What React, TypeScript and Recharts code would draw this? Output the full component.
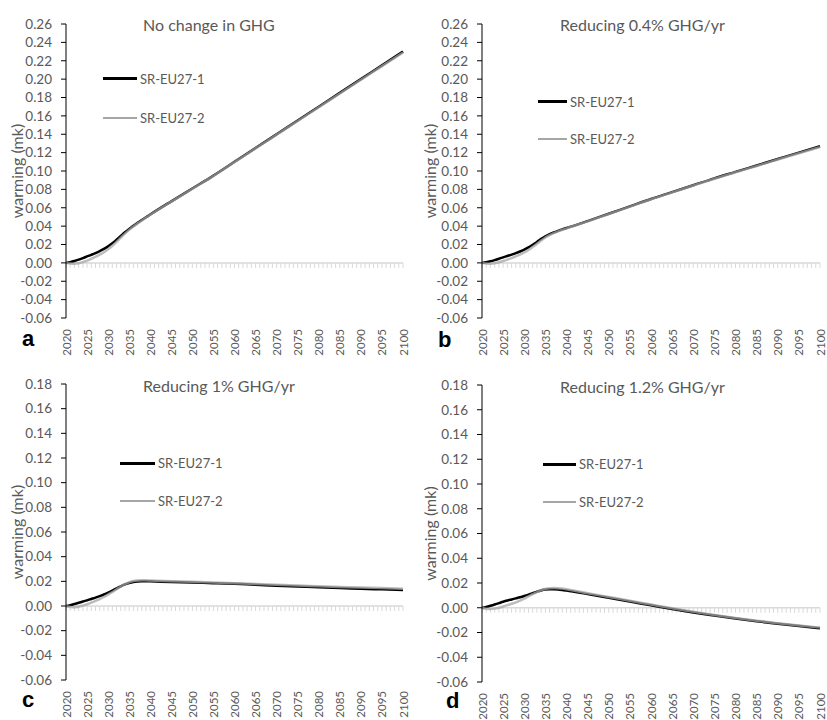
import React from "react";
import { LineChart, Line, XAxis, YAxis, ReferenceLine, Legend } from "recharts";

// years sampled: yearly to 2040, then every 5 years
const years = [
  2020, 2021, 2022, 2023, 2024, 2025, 2026, 2027, 2028, 2029, 2030, 2031, 2032, 2033, 2034, 2035,
  2036, 2037, 2038, 2039, 2040, 2045, 2050, 2055, 2060, 2065, 2070, 2075, 2080, 2085, 2090, 2095, 2100,
];
const labelYears = [2020, 2025, 2030, 2035, 2040, 2045, 2050, 2055, 2060, 2065, 2070, 2075, 2080, 2085, 2090, 2095, 2100];
const minorYears = Array.from({ length: 81 }, (_, i) => 2020 + i);

const topTicks = [-0.06, -0.04, -0.02, 0, 0.02, 0.04, 0.06, 0.08, 0.1, 0.12, 0.14, 0.16, 0.18, 0.2, 0.22, 0.24, 0.26];
const bottomTicks = [-0.06, -0.04, -0.02, 0, 0.02, 0.04, 0.06, 0.08, 0.1, 0.12, 0.14, 0.16, 0.18];

const seriesNames = ["SR-EU27-1", "SR-EU27-2"];

// a: no change in GHG
const aBlack = [
  0, 0.0008, 0.002, 0.0035, 0.0052, 0.007, 0.0088, 0.0107, 0.0128, 0.0152, 0.018, 0.0213, 0.0252, 0.0293, 0.0333, 0.037,
  0.0404, 0.0436, 0.0467, 0.0497, 0.0527, 0.067, 0.081, 0.095, 0.11, 0.125, 0.14, 0.155, 0.17, 0.185, 0.2, 0.215, 0.23,
];
const aGray = [
  0, -0.0008, -0.001, -0.0005, 0.0008, 0.0025, 0.0045, 0.0066, 0.0089, 0.0116, 0.0148, 0.0186, 0.0229, 0.0274, 0.0318, 0.0359,
  0.0396, 0.043, 0.0462, 0.0493, 0.0523, 0.0667, 0.0807, 0.0947, 0.1097, 0.1246, 0.1396, 0.1545, 0.1694, 0.1844, 0.1993, 0.2142, 0.229,
];
// b: reducing 0.4%
const bBlack = [
  0, 0.0007, 0.0017, 0.003, 0.0045, 0.006, 0.0075, 0.009, 0.0106, 0.0124, 0.0145, 0.0169, 0.0197, 0.0228, 0.0261, 0.029,
  0.0313, 0.0332, 0.0349, 0.0365, 0.0379, 0.0455, 0.0535, 0.0615, 0.0695, 0.077, 0.0845, 0.092, 0.099, 0.106, 0.113, 0.12, 0.127,
];
const bGray = [
  0, -0.0008, -0.001, -0.0005, 0.0007, 0.002, 0.0035, 0.0052, 0.007, 0.009, 0.0113, 0.014, 0.0172, 0.0207, 0.0243, 0.0276,
  0.0302, 0.0324, 0.0343, 0.036, 0.0376, 0.0452, 0.0532, 0.0612, 0.0692, 0.0767, 0.0842, 0.0916, 0.0986, 0.1055, 0.1125, 0.1193, 0.126,
];
// c: reducing 1%
const cBlack = [
  0, 0.0007, 0.0016, 0.0026, 0.0036, 0.0046, 0.0057, 0.0068, 0.008, 0.0093, 0.0108, 0.0125, 0.0143, 0.016, 0.0175, 0.0187,
  0.0195, 0.0199, 0.0201, 0.0201, 0.02, 0.0195, 0.019, 0.0185, 0.018, 0.0172, 0.0165, 0.0158, 0.0152, 0.0146, 0.014, 0.0135, 0.013,
];
const cGray = [
  0, -0.0008, -0.001, -0.0006, 0.0003, 0.0014, 0.0027, 0.0041, 0.0056, 0.0073, 0.0092, 0.0113, 0.0136, 0.0158, 0.0177, 0.0192,
  0.0202, 0.0207, 0.0209, 0.0208, 0.0206, 0.0201, 0.0196, 0.019, 0.0184, 0.0178, 0.0172, 0.0166, 0.016, 0.0155, 0.015, 0.0145, 0.014,
];
// d: reducing 1.2%
const dBlack = [
  0, 0.0007, 0.0016, 0.0026, 0.0037, 0.0048, 0.0058, 0.0067, 0.0076, 0.0085, 0.0095, 0.0106, 0.0118, 0.013, 0.014, 0.0147,
  0.015, 0.015, 0.0148, 0.0144, 0.0139, 0.011, 0.008, 0.005, 0.002, -0.001, -0.0038, -0.0063, -0.0087, -0.0109, -0.0129, -0.0148, -0.0165,
];
const dGray = [
  0, -0.0008, -0.001, -0.0007, 0, 0.001, 0.0021, 0.0032, 0.0044, 0.0058, 0.0074, 0.0092, 0.011, 0.0127, 0.0141, 0.0151,
  0.0157, 0.0159, 0.0158, 0.0155, 0.015, 0.0118, 0.0087, 0.0056, 0.0026, -0.0004, -0.0033, -0.0059, -0.0083, -0.0105, -0.0125, -0.0144, -0.016,
];

const toRows = (s1: number[], s2: number[]) => years.map((year, i) => ({ year, s1: s1[i], s2: s2[i] }));

const TEXT = "#595959";
const FONT = "Lato, 'Open Sans', sans-serif";

const panels = [
  {
    key: "a", x: 0, y: 0, w: 413, title: "No change in GHG", titleX: 143, titleY: 31, letterX: 22, letterY: 346,
    margin: { top: 24, right: 10, bottom: 2, left: 0 }, yW: 66, xH: 40, domain: [-0.06, 0.26], ticks: topTicks,
    legend: { left: 103, top: 59, line: 34, row: 39 }, data: toRows(aBlack, aGray),
  },
  {
    key: "b", x: 413, y: 0, w: 414, title: "Reducing 0.4% GHG/yr", titleX: 147, titleY: 31, letterX: 25, letterY: 347,
    margin: { top: 24, right: 7, bottom: 2, left: 0 }, yW: 69, xH: 40, domain: [-0.06, 0.26], ticks: topTicks,
    legend: { left: 125, top: 83, line: 29, row: 37 }, data: toRows(bBlack, bGray),
  },
  {
    key: "c", x: 0, y: 360, w: 413, title: "Reducing 1% GHG/yr", titleX: 143, titleY: 32, letterX: 22, letterY: 347,
    margin: { top: 24, right: 10, bottom: 0, left: 0 }, yW: 66, xH: 40, domain: [-0.06, 0.18], ticks: bottomTicks,
    legend: { left: 120, top: 84, line: 35, row: 38 }, data: toRows(cBlack, cGray),
  },
  {
    key: "d", x: 413, y: 360, w: 414, title: "Reducing 1.2% GHG/yr", titleX: 147, titleY: 33, letterX: 33, letterY: 348,
    margin: { top: 25, right: 7, bottom: 0, left: 0 }, yW: 69, xH: 38, domain: [-0.06, 0.18], ticks: bottomTicks,
    legend: { left: 130, top: 85, line: 33, row: 38 }, data: toRows(dBlack, dGray),
  },
];

const H = 360;

const YearTick = (props: any) => {
  const { x, y, payload } = props;
  const ty = y + 11;
  return (
    <text
      x={x}
      y={ty}
      transform={`rotate(-90, ${x}, ${ty})`}
      textAnchor="end"
      dominantBaseline="central"
      fill={TEXT}
      fontSize={11.5}
      fontFamily={FONT}
    >
      {payload.value}
    </text>
  );
};

const makeLegend = (cfg: { line: number; row: number }) => (props: any) => (
  <div style={{ display: "flex", flexDirection: "column" }}>
    {(props.payload || []).map((p: any, i: number) => (
      <div key={i} style={{ height: cfg.row, display: "flex", alignItems: "center" }}>
        <div style={{ width: cfg.line, height: i === 0 ? 3 : 2, background: p.color }} />
        <span style={{ marginLeft: 3, fontSize: 13, fontFamily: FONT, color: TEXT }}>{p.value}</span>
      </div>
    ))}
  </div>
);

const Panel = ({ p }: { p: (typeof panels)[number] }) => {
  const plotH = H - p.margin.top - p.margin.bottom - p.xH;
  const tickLen = ((p.domain[1] - p.domain[0]) * 5) / plotH;
  const midY = p.margin.top + plotH / 2;
  return (
    <div style={{ position: "absolute", left: p.x, top: p.y, width: p.w, height: H }}>
      <LineChart width={p.w} height={H} data={p.data} margin={p.margin}>
        <XAxis
          dataKey="year"
          type="number"
          domain={[2020, 2100]}
          ticks={labelYears}
          interval={0}
          axisLine={false}
          tickLine={false}
          tickSize={0}
          tickMargin={0}
          height={p.xH}
          tick={<YearTick />}
        />
        <YAxis
          type="number"
          domain={p.domain}
          ticks={p.ticks}
          interval={0}
          width={p.yW}
          tickFormatter={(v: number) => v.toFixed(2)}
          axisLine={{ stroke: "#000" }}
          tickLine={{ stroke: "#000" }}
          tickSize={5}
          tickMargin={9}
          tick={{ fill: TEXT, fontSize: 13.5, fontFamily: FONT }}
        />
        <ReferenceLine y={0} stroke="#d9d9d9" strokeWidth={1.5} />
        {minorYears.map((yr) => (
          <ReferenceLine
            key={yr}
            segment={[
              { x: yr, y: 0 },
              { x: yr, y: -tickLen },
            ]}
            stroke="#d9d9d9"
            strokeWidth={1}
          />
        ))}
        <Line
          type="monotone"
          dataKey="s1"
          name={seriesNames[0]}
          stroke="#000000"
          strokeWidth={2.5}
          dot={false}
          isAnimationActive={false}
        />
        <Line
          type="monotone"
          dataKey="s2"
          name={seriesNames[1]}
          stroke="#a6a6a6"
          strokeWidth={2.5}
          strokeOpacity={0.75}
          dot={false}
          isAnimationActive={false}
        />
        <Legend
          layout="vertical"
          align="center"
          verticalAlign="middle"
          content={makeLegend(p.legend)}
          wrapperStyle={{ left: p.legend.left, top: p.legend.top, width: "auto" }}
        />
      </LineChart>
      <svg
        width={p.w}
        height={H}
        style={{ position: "absolute", left: 0, top: 0, pointerEvents: "none" }}
      >
        <text x={p.titleX} y={p.titleY} fontSize={16} fontFamily={FONT} fill={TEXT}>
          {p.title}
        </text>
        <text
          x={16}
          y={midY}
          transform={`rotate(-90, 16, ${midY})`}
          textAnchor="middle"
          dominantBaseline="central"
          fontSize={16}
          fontFamily={FONT}
          fill={TEXT}
        >
          warming (mk)
        </text>
        <text x={p.letterX} y={p.letterY} fontSize={22} fontWeight="bold" fontFamily="'Liberation Sans', Arial, sans-serif" fill="#000">
          {p.key}
        </text>
      </svg>
    </div>
  );
};

export default function App() {
  return (
    <div style={{ position: "absolute", left: 0, top: 0, width: 827, height: 720, background: "#fff" }}>
      {panels.map((p) => (
        <Panel key={p.key} p={p} />
      ))}
    </div>
  );
}
